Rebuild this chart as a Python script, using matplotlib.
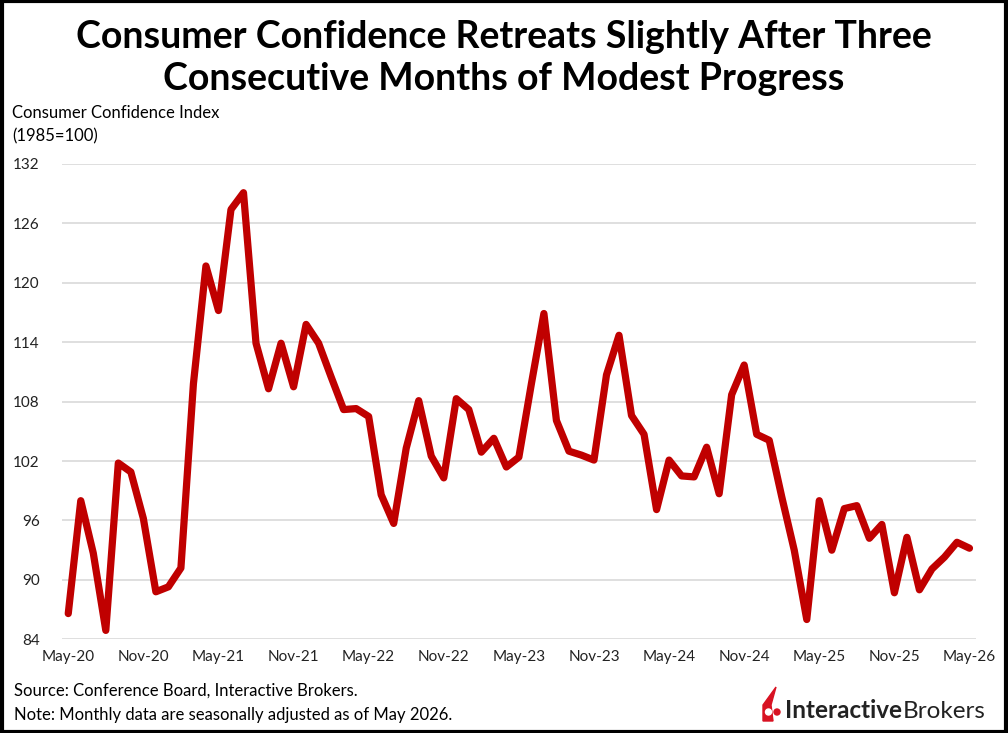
import matplotlib.pyplot as plt
import matplotlib.patches as mpatches
import numpy as np
import pandas as pd

# monthly index values, May-2020 .. May-2026
dates = pd.date_range("2020-05-01", "2026-05-01", freq="MS")
cci = [86.6, 98.0, 92.7, 84.9, 101.8, 100.9, 96.2, 88.8, 89.3, 91.2,
       109.8, 121.7, 117.2, 127.4, 129.1, 113.9, 109.3, 113.9, 109.5, 115.8,
       113.9, 110.5, 107.2, 107.3, 106.5, 98.6, 95.7, 103.3, 108.1, 102.5,
       100.3, 108.3, 107.2, 102.9, 104.3, 101.4, 102.4, 109.8, 116.9, 106.1,
       103.0, 102.6, 102.1, 110.7, 114.7, 106.6, 104.7, 97.1, 102.1, 100.5,
       100.4, 103.4, 98.7, 108.7, 111.7, 104.7, 104.1, 98.4, 93.0, 86.0,
       98.0, 93.0, 97.2, 97.5, 94.2, 95.6, 88.7, 94.3, 89.0, 91.1,
       92.3, 93.8, 93.2]
yticks = [84, 90, 96, 102, 108, 114, 120, 126, 132]

title = "Consumer Confidence Retreats Slightly After Three\nConsecutive Months of Modest Progress"
ylab = "Consumer Confidence Index\n(1985=100)"
source = "Source: Conference Board, Interactive Brokers."
note = "Note: Monthly data are seasonally adjusted as of May 2026."

plt.rcParams['font.family'] = ['Lato', 'DejaVu Sans']

W, H = 1008, 733
fig = plt.figure(figsize=(W / 100, H / 100), dpi=100)
ax = fig.add_axes([0.0615, 0.1278, 0.9065, 0.6485])

x = np.arange(len(cci))
ax.plot(x, cci, color="#C00000", lw=5.2, solid_joinstyle="round", solid_capstyle="round", zorder=3)

ax.set_ylim(84, 132)
ax.set_yticks(yticks)
ax.set_xlim(-0.5, len(cci) - 0.5)
ax.set_xticks(x[::6])
ax.set_xticklabels([d.strftime("%b-%y") for d in dates[::6]])
ax.grid(axis="y", color="#D9D9D9", lw=1.2)
ax.set_axisbelow(True)
for s in ax.spines.values():
    s.set_visible(False)
ax.tick_params(length=0, labelsize=11, colors="#222222")
ax.tick_params(axis="y", pad=16)
ax.tick_params(axis="x", pad=8)

fig.text(0.5, 0.921, title, ha="center", va="center", fontsize=27, fontweight="bold",
         linespacing=1.3)
fig.text(0.012, 0.83, ylab, ha="left", va="center", fontsize=12, linespacing=1.6)
fig.text(0.014, 0.058, source, ha="left", va="center", fontsize=12)
fig.text(0.014, 0.025, note, ha="left", va="center", fontsize=12)


# logo (pixel coords -> figure fraction)
def fp(px, py):
    return (px / W, 1 - py / H)


t1 = fig.text(*fp(785, 711), "Interactive", ha="left", va="center", fontsize=17.5,
              fontweight="bold", color="#222222")
r = fig.canvas.get_renderer()
bb = t1.get_window_extent(renderer=r)
fig.text(bb.x1 / W + 0.0005, 1 - 711 / H, "Brokers", ha="left", va="center", fontsize=17.5,
         color="#222222")
flame = mpatches.Polygon([fp(763, 721), fp(763, 705), fp(776, 687), fp(771, 705), fp(773, 721)],
                         closed=True, transform=fig.transFigure, color="#D81222")
fig.patches.append(flame)
fig.patches.append(mpatches.Ellipse(fp(768.5, 712), 6 / W, 6 / H, transform=fig.transFigure, color="white"))
fig.patches.append(mpatches.Ellipse(fp(777, 712), 6 / W, 6 / H, transform=fig.transFigure, color="#D81222"))

border = mpatches.Rectangle((0.0015, 0.002), 0.997, 0.996, transform=fig.transFigure,
                            fill=False, ec="black", lw=3)
fig.patches.append(border)

fig.savefig("out.png", dpi=100)
